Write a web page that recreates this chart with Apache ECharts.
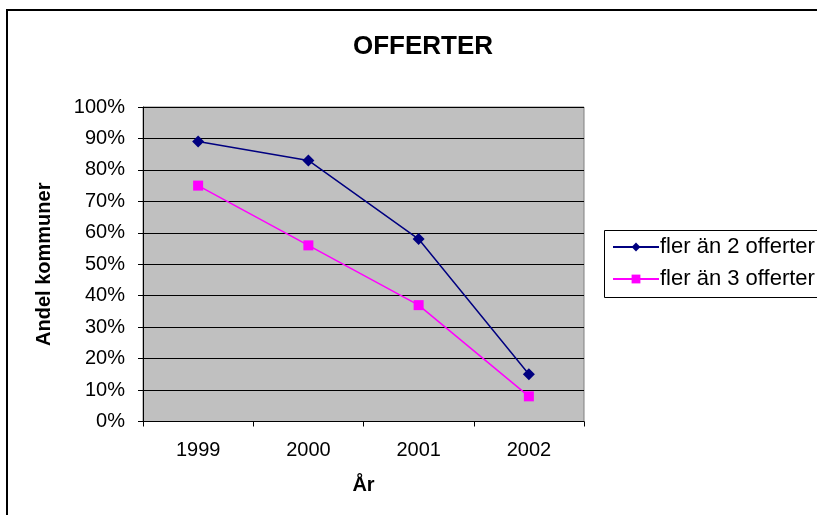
<!DOCTYPE html>
<html>
<head>
<meta charset="utf-8">
<script src="https://cdn.jsdelivr.net/npm/echarts@6/dist/echarts.min.js"></script>
<style>
  html, body { margin: 0; padding: 0; background: #fff; }
  #chart { width: 817px; height: 515px; }
</style>
</head>
<body>
<div id="chart"></div>
<script>
// Year categories and share of municipalities (percent)
const years = ['1999', '2000', '2001', '2002'];
const merAn2 = [89, 83, 58, 15];
const merAn3 = [75, 56, 37, 8];
const seriesNames = ['fler än 2 offerter', 'fler än 3 offerter'];

const FONT = '"Liberation Sans", Arial, sans-serif';

const chart = echarts.init(document.getElementById('chart'), null, { renderer: 'canvas' });

chart.setOption({
  animation: false,
  backgroundColor: '#ffffff',
  title: {
    text: 'OFFERTER',
    left: 418, top: 29,
    textAlign: 'center',
    textStyle: { fontFamily: FONT, fontSize: 26, fontWeight: 'bold', color: '#000' }
  },
  graphic: [
    // outer chart frame, running off the right and bottom edges
    { type: 'rect', shape: { x: 7, y: 10, width: 900, height: 600 },
      style: { fill: 'none', stroke: '#000', lineWidth: 2 }, z: -1 },
    // legend frame
    { type: 'rect', shape: { x: 604.5, y: 230.5, width: 260, height: 67 },
      style: { fill: '#fff', stroke: '#000', lineWidth: 1 }, z: 1 }
  ],
  legend: {
    orient: 'vertical',
    left: 607, top: 231,
    itemWidth: 46, itemHeight: 11,
    itemGap: 10,
    z: 5,
    textStyle: { fontFamily: FONT, fontSize: 22, color: '#000', padding: [0, 0, 0, -4] },
    data: seriesNames
  },
  grid: {
    left: 143, top: 107, width: 441, height: 314.5,
    show: true, backgroundColor: '#c0c0c0', borderColor: '#808080', borderWidth: 1
  },
  xAxis: {
    type: 'category',
    data: years,
    boundaryGap: true,
    name: 'År',
    nameLocation: 'middle',
    nameGap: 54,
    nameTextStyle: { fontFamily: FONT, fontSize: 20, fontWeight: 'bold', color: '#000' },
    axisLine: { lineStyle: { color: '#000', width: 1 } },
    axisTick: { show: true, length: 5, alignWithLabel: false, lineStyle: { color: '#000' } },
    axisLabel: { fontFamily: FONT, fontSize: 20, color: '#000', margin: 19 },
    splitLine: { show: false }
  },
  yAxis: {
    type: 'value',
    min: 0, max: 100, interval: 10,
    name: 'Andel kommuner',
    nameLocation: 'middle',
    nameGap: 89,
    nameTextStyle: { fontFamily: FONT, fontSize: 20, fontWeight: 'bold', color: '#000' },
    axisLine: { show: true, lineStyle: { color: '#000', width: 1 } },
    axisTick: { show: true, length: 5, lineStyle: { color: '#000' } },
    axisLabel: { fontFamily: FONT, fontSize: 20, color: '#000', margin: 18, formatter: v => v + '%' },
    splitLine: { show: true, lineStyle: { color: '#000', width: 1 } }
  },
  series: [
    {
      name: seriesNames[0], type: 'line', data: merAn2,
      symbol: 'diamond', symbolSize: 12,
      lineStyle: { color: '#000080', width: 1.5 },
      itemStyle: { color: '#000080' },
      z: 3
    },
    {
      name: seriesNames[1], type: 'line', data: merAn3,
      symbol: 'rect', symbolSize: 10,
      lineStyle: { color: '#ff00ff', width: 1.5 },
      itemStyle: { color: '#ff00ff' },
      z: 3
    }
  ]
});
</script>
</body>
</html>
